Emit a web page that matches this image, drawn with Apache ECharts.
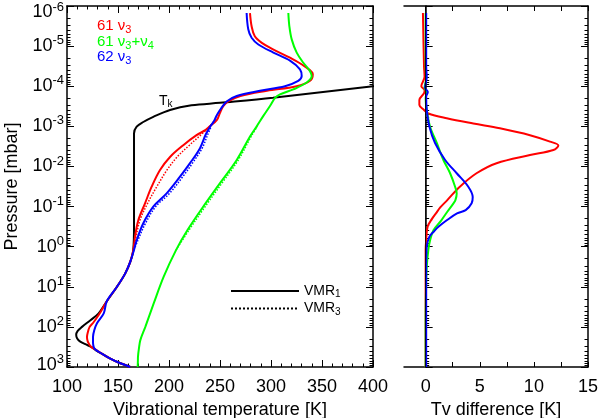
<!DOCTYPE html>
<html>
<head>
<meta charset="utf-8">
<script src="https://cdn.jsdelivr.net/npm/echarts@6/dist/echarts.min.js"></script>
<style>
html, body { margin: 0; padding: 0; background: #fff; }
#chart { width: 598px; height: 418px; }
</style>
</head>
<body>
<div id="chart"></div>
<script>
// left panel: [temperature K, pressure mbar]
const tkProfile = [[162,1000],[150,760],[142.5,617],[135,480],[130,410],[124.5,324],[119.5,282],[113,234],[110,195],[109,158],[110.5,126],[114.7,100],[123,68],[131,46],[139,23],[149,10],[157,4.7],[162,2.4],[165,1.2],[165.7,0.3],[165.7,0.01],[165.7,1.5e-3],[168.3,1.02e-3],[174.8,7.8e-4],[184.6,5.8e-4],[201,3.9e-4],[222,3.0e-4],[250,2.6e-4],[302,1.95e-4],[400,1.0e-4],[440,8e-5]];
const v3_61 = [[162,1000],[150,760],[142.5,617],[136,500],[131.5,420],[127.7,363],[124,320],[122.2,282],[120.3,230],[119.6,178],[120.3,140],[122.2,100],[125.5,80],[128.7,62],[133.5,40],[139,23],[149,10],[157,4.7],[162,2.4],[165,1.2],[166.7,0.56],[169.9,0.22],[176.5,8.3e-2],[183,3.2e-2],[191.2,1.23e-2],[201,5.8e-3],[214,2.95e-3],[227,1.66e-3],[236,1.23e-3],[240,1e-3],[247,6.9e-4],[250,4.6e-4],[253,3.2e-4],[258,2.4e-4],[270,1.75e-4],[296,1.3e-4],[325,1.0e-4],[338,7.4e-5],[341,5.0e-5],[333,3.2e-5],[318.6,1.95e-5],[302,1.2e-5],[291,8.3e-6],[284,5.6e-6],[281,3.2e-6],[279.4,1.5e-6]];
const v34_61 = [[169.3,1000],[169.5,700],[169.6,550],[170.5,350],[171.9,214],[176.8,100],[185,26],[194.8,5.6],[207,1.2],[218,0.39],[233.6,0.1],[250,2.6e-2],[266.4,6.9e-3],[279.4,1.8e-3],[286,1e-3],[292.5,5.5e-4],[299,3.1e-4],[304,1.95e-4],[308.8,1.6e-4],[321.9,1.2e-4],[335,8.1e-5],[339.9,5.6e-5],[338.2,4.2e-5],[331.7,2.6e-5],[325.2,1.45e-5],[320.3,6.8e-6],[318,3.2e-6],[317,1.5e-6]];
const v3_62 = [[162,1000],[150,760],[142.5,617],[136,500],[131.1,417],[127.5,360],[126.2,316],[125.5,250],[125.5,178],[126.8,120],[129.4,81],[136,46],[139,23],[149,10],[157,4.7],[162,2.4],[165.7,1.2],[168.3,0.69],[174.8,0.26],[184.6,0.1],[197.7,4.7e-2],[210.8,1.8e-2],[220.6,8.3e-3],[230.4,3.5e-3],[236,1.6e-3],[240,1.05e-3],[244,7.5e-4],[247,5.2e-4],[251,3.6e-4],[256.5,2.4e-4],[266.4,1.75e-4],[289.2,1.3e-4],[313.7,1.0e-4],[326.7,7.4e-5],[330.1,5.6e-5],[328.4,3.8e-5],[318.6,2.3e-5],[302.3,1.45e-5],[287.6,9.1e-6],[281,6.2e-6],[277.7,3.8e-6],[276.1,1.5e-6]];
// VMR3 runs (dotted), only where they leave the VMR1 curves
const v3_61_vmr3 = [[165,1.2],[167,0.69],[171.5,0.22],[179,8.3e-2],[188,3.2e-2],[198,1.23e-2],[208,5.8e-3],[220,2.95e-3],[231,1.66e-3],[240,1e-3],[246,6.3e-4]];
const v34_61_vmr3 = [[207,1.2],[219.5,0.39],[235.5,0.1],[252,2.6e-2],[268,6.9e-3],[280.5,1.8e-3],[286.5,1e-3]];
const v3_62_vmr3 = [[165.7,1.2],[169.5,0.69],[177,0.26],[187,0.1],[200.5,4.7e-2],[213.5,1.8e-2],[223,8.3e-3],[232.5,3.5e-3],[238,1.6e-3],[241,1.05e-3]];

// right panel: [Tv difference K, pressure mbar]
const diff_v3_61 = [[-0.25,1.5e-6],[-0.15,3.2e-5],[-0.1,5.8e-5],[-0.4,1.0e-4],[-0.1,1.26e-4],[-0.15,1.5e-4],[-0.58,2.2e-4],[-0.58,2.95e-4],[-0.15,3.9e-4],[0.25,4.8e-4],[1.95,6.3e-4],[4.4,8.5e-4],[6.86,1.12e-3],[9.64,1.66e-3],[11.49,2.4e-3],[12.26,3.0e-3],[11.8,3.9e-3],[9.64,5.2e-3],[6.55,8.3e-3],[4.7,1.48e-2],[3.16,3.2e-2],[2.0,6.9e-2],[1.35,0.105],[0.95,0.148],[0.6,0.2],[0.18,0.32],[0.05,0.69],[0,1.2],[0,1000]];
const diff_v34_61 = [[0,1.5e-6],[0,3.2e-5],[0.05,6.3e-5],[-0.1,1.1e-4],[0.1,1.4e-4],[0,2.0e-4],[0.1,3.9e-4],[0.41,1.02e-3],[1.03,2.6e-3],[1.64,6.9e-3],[2.26,1.48e-2],[2.72,3.2e-2],[2.87,4.7e-2],[2.75,6.9e-2],[2.57,8.3e-2],[2.0,0.135],[1.45,0.22],[0.72,0.39],[0.41,0.69],[0.25,1.2],[0.1,3.2],[0.04,10],[0,100],[0,1000]];
const diff_v3_62 = [[0.05,1.5e-6],[0.05,3.2e-5],[0.1,5.8e-5],[-0.05,1.1e-4],[0.2,1.4e-4],[0.05,1.8e-4],[0.1,3.9e-4],[0.35,1.02e-3],[0.87,2.6e-3],[1.8,6.9e-3],[2.87,1.48e-2],[3.94,3.2e-2],[4.35,5.8e-2],[4.25,8.3e-2],[3.7,0.123],[2.9,0.148],[1.95,0.22],[1.18,0.32],[0.72,0.43],[0.35,0.56],[0.1,1],[0.05,3.2],[0.05,1000]];

// axis ticks
const pressureTicks = [1e-6,1e-5,1e-4,1e-3,1e-2,1e-1,1,10,100,1000];
const diffLabels = [0,5,10,15];
const diffTicks = [0,2.5,5,7.5,10,12.5,15];

const FONT = 'Liberation Sans, Arial, Helvetica, sans-serif';
const RED = '#ff0000', GREEN = '#00ff00', BLUE = '#0000ff';

let minorP = [];
pressureTicks.slice(0, -1).forEach(p => {
  for (let m = 2; m <= 9; m++) minorP.push(+(p * m).toPrecision(3));
});

const chart = echarts.init(document.getElementById('chart'), null, { renderer: 'canvas' });

const axisLine = { show: true, lineStyle: { color: '#000', width: 1.5 } };
const tickStyle = { color: '#000', width: 1 };

// 10^n label; the end labels are pushed inside the frame like the original
function powLabel(v) {
  const e = Math.round(Math.log10(v));
  if (e <= -6) return '{bt|10}{st|' + e + '}';
  if (e >= 3) return '{bb|10}{sb|' + e + '}';
  return '{b|10}{s|' + e + '}';
}
const labelRich = {
  b: { fontSize: 18, fontFamily: FONT, color: '#000' },
  s: { fontSize: 13, fontFamily: FONT, color: '#000', padding: [0, 0, 11, 0] },
  bt: { fontSize: 18, fontFamily: FONT, color: '#000', padding: [13, 0, 0, 0] },
  st: { fontSize: 13, fontFamily: FONT, color: '#000', padding: [13, 0, 11, 0] },
  bb: { fontSize: 18, fontFamily: FONT, color: '#000', padding: [0, 0, 4, 0] },
  sb: { fontSize: 13, fontFamily: FONT, color: '#000', padding: [0, 0, 15, 0] }
};

function yAxes(gridIndex, withLabels) {
  const base = { type: 'log', gridIndex: gridIndex, min: 1e-6, max: 1e3, inverse: true, splitLine: { show: false } };
  const major = (pos, label) => Object.assign({}, base, {
    position: pos,
    axisLine: axisLine,
    axisTick: { inside: true, length: 7, customValues: pressureTicks, lineStyle: tickStyle },
    axisLabel: {
      show: label,
      customValues: pressureTicks,
      margin: 3,
      color: '#000',
      fontFamily: FONT,
      formatter: powLabel,
      rich: labelRich
    }
  });
  const minor = pos => Object.assign({}, base, {
    position: pos,
    axisLine: { show: false },
    axisTick: { inside: true, length: 3.5, customValues: minorP, lineStyle: tickStyle },
    axisLabel: { show: false }
  });
  const list = [major('left', withLabels), minor('left'), major('right', false), minor('right')];
  if (withLabels) {
    list[0].name = 'Pressure [mbar]';
    list[0].nameLocation = 'middle';
    list[0].nameGap = 46;
    list[0].nameTextStyle = { fontSize: 18, fontFamily: FONT, color: '#000' };
  }
  return list;
}

function line(name, data, color, xi, yi, dotted) {
  return {
    name: name,
    type: 'line',
    xAxisIndex: xi,
    yAxisIndex: yi,
    data: data,
    smooth: 0.35,
    symbol: 'none',
    silent: true,
    lineStyle: { color: color, width: dotted ? 1.5 : 2, type: dotted ? 'dotted' : 'solid' }
  };
}

function subText(parts, color, size, subSize, drop) {
  return {
    text: parts,
    fill: color,
    rich: {
      n: { fontSize: size, fontFamily: FONT, fill: color },
      d: { fontSize: subSize, fontFamily: FONT, fill: color, padding: [drop, 0, 0, 0] }
    }
  };
}

const option = {
  animation: false,
  backgroundColor: '#fff',
  grid: [
    { left: 67, top: 6, width: 306, height: 361, outerBoundsMode: 'none' },
    { left: 404, top: 6, width: 184, height: 361, outerBoundsMode: 'none' }
  ],
  xAxis: [
    {
      type: 'value', gridIndex: 0, position: 'bottom', min: 100, max: 400, interval: 50,
      name: 'Vibrational temperature [K]', nameLocation: 'middle', nameGap: 27,
      nameTextStyle: { fontSize: 18, fontFamily: FONT, color: '#000' },
      axisLine: axisLine,
      axisTick: { inside: true, length: 7, lineStyle: tickStyle },
      minorTick: { show: true, splitNumber: 5, length: 3.5, lineStyle: tickStyle },
      axisLabel: { fontSize: 18, fontFamily: FONT, color: '#000', margin: 11 },
      splitLine: { show: false }
    },
    {
      type: 'value', gridIndex: 0, position: 'top', min: 100, max: 400, interval: 50,
      axisLine: axisLine,
      axisTick: { inside: true, length: 7, lineStyle: tickStyle },
      minorTick: { show: true, splitNumber: 5, length: 3.5, lineStyle: tickStyle },
      axisLabel: { show: false },
      splitLine: { show: false }
    },
    {
      type: 'value', gridIndex: 1, position: 'bottom', min: -2, max: 15,
      name: 'Tv difference [K]', nameLocation: 'middle', nameGap: 27,
      nameTextStyle: { fontSize: 18, fontFamily: FONT, color: '#000' },
      axisLine: axisLine,
      axisTick: { inside: true, length: 5, customValues: diffTicks, lineStyle: tickStyle },
      axisLabel: { customValues: diffLabels, fontSize: 18, fontFamily: FONT, color: '#000', margin: 11 },
      splitLine: { show: false }
    },
    {
      type: 'value', gridIndex: 1, position: 'top', min: -2, max: 15,
      axisLine: axisLine,
      axisTick: { inside: true, length: 5, customValues: diffTicks, lineStyle: tickStyle },
      axisLabel: { show: false },
      splitLine: { show: false }
    }
  ],
  yAxis: yAxes(0, true).concat(yAxes(1, false)),
  legend: {
    left: 225, top: 279, orient: 'vertical',
    itemWidth: 68, itemHeight: 10, itemGap: 2,
    data: ['VMR1', 'VMR3'],
    itemStyle: { opacity: 0 },
    formatter: n => '{n|VMR}{d|' + n.slice(3) + '}',
    textStyle: {
      rich: {
        n: { fontSize: 14, fontFamily: FONT, color: '#000' },
        d: { fontSize: 10, fontFamily: FONT, color: '#000', padding: [7, 0, 0, 0] }
      }
    },
    selectedMode: false
  },
  graphic: [
    { type: 'text', left: 97, top: 18, silent: true, style: subText('{n|61 ν}{d|3}', RED, 15, 11, 9) },
    { type: 'text', left: 97, top: 34, silent: true, style: subText('{n|61 ν}{d|3}{n|+ν}{d|4}', GREEN, 15, 11, 9) },
    { type: 'text', left: 97, top: 49, silent: true, style: subText('{n|62 ν}{d|3}', BLUE, 15, 11, 9) },
    { type: 'text', left: 159, top: 94, silent: true, style: subText('{n|T}{d|k}', '#000', 14, 10, 7) }
  ],
  series: [
    // legend samples
    { name: 'VMR1', type: 'line', xAxisIndex: 0, yAxisIndex: 0, data: [], symbol: 'none', lineStyle: { color: '#000', width: 2, type: 'solid' } },
    { name: 'VMR3', type: 'line', xAxisIndex: 0, yAxisIndex: 0, data: [], symbol: 'none', lineStyle: { color: '#000', width: 1, type: 'dotted' } },
    line('61 v3 VMR3', v3_61_vmr3, RED, 0, 0, true),
    line('61 v3+v4 VMR3', v34_61_vmr3, GREEN, 0, 0, true),
    line('62 v3 VMR3', v3_62_vmr3, BLUE, 0, 0, true),
    line('Tk', tkProfile, '#000', 0, 0, false),
    line('61 v3', v3_61, RED, 0, 0, false),
    line('61 v3+v4', v34_61, GREEN, 0, 0, false),
    line('62 v3', v3_62, BLUE, 0, 0, false),
    Object.assign(line('diff 61 v3', diff_v3_61, RED, 2, 4, false), {
      markLine: {
        silent: true, symbol: ['none', 'none'], label: { show: false },
        lineStyle: { color: '#000', width: 0.8, type: 'solid' },
        data: [{ xAxis: 0 }]
      }
    }),
    line('diff 61 v3+v4', diff_v34_61, GREEN, 2, 4, false),
    line('diff 62 v3', diff_v3_62, BLUE, 2, 4, false)
  ]
};

chart.setOption(option);
</script>
</body>
</html>
